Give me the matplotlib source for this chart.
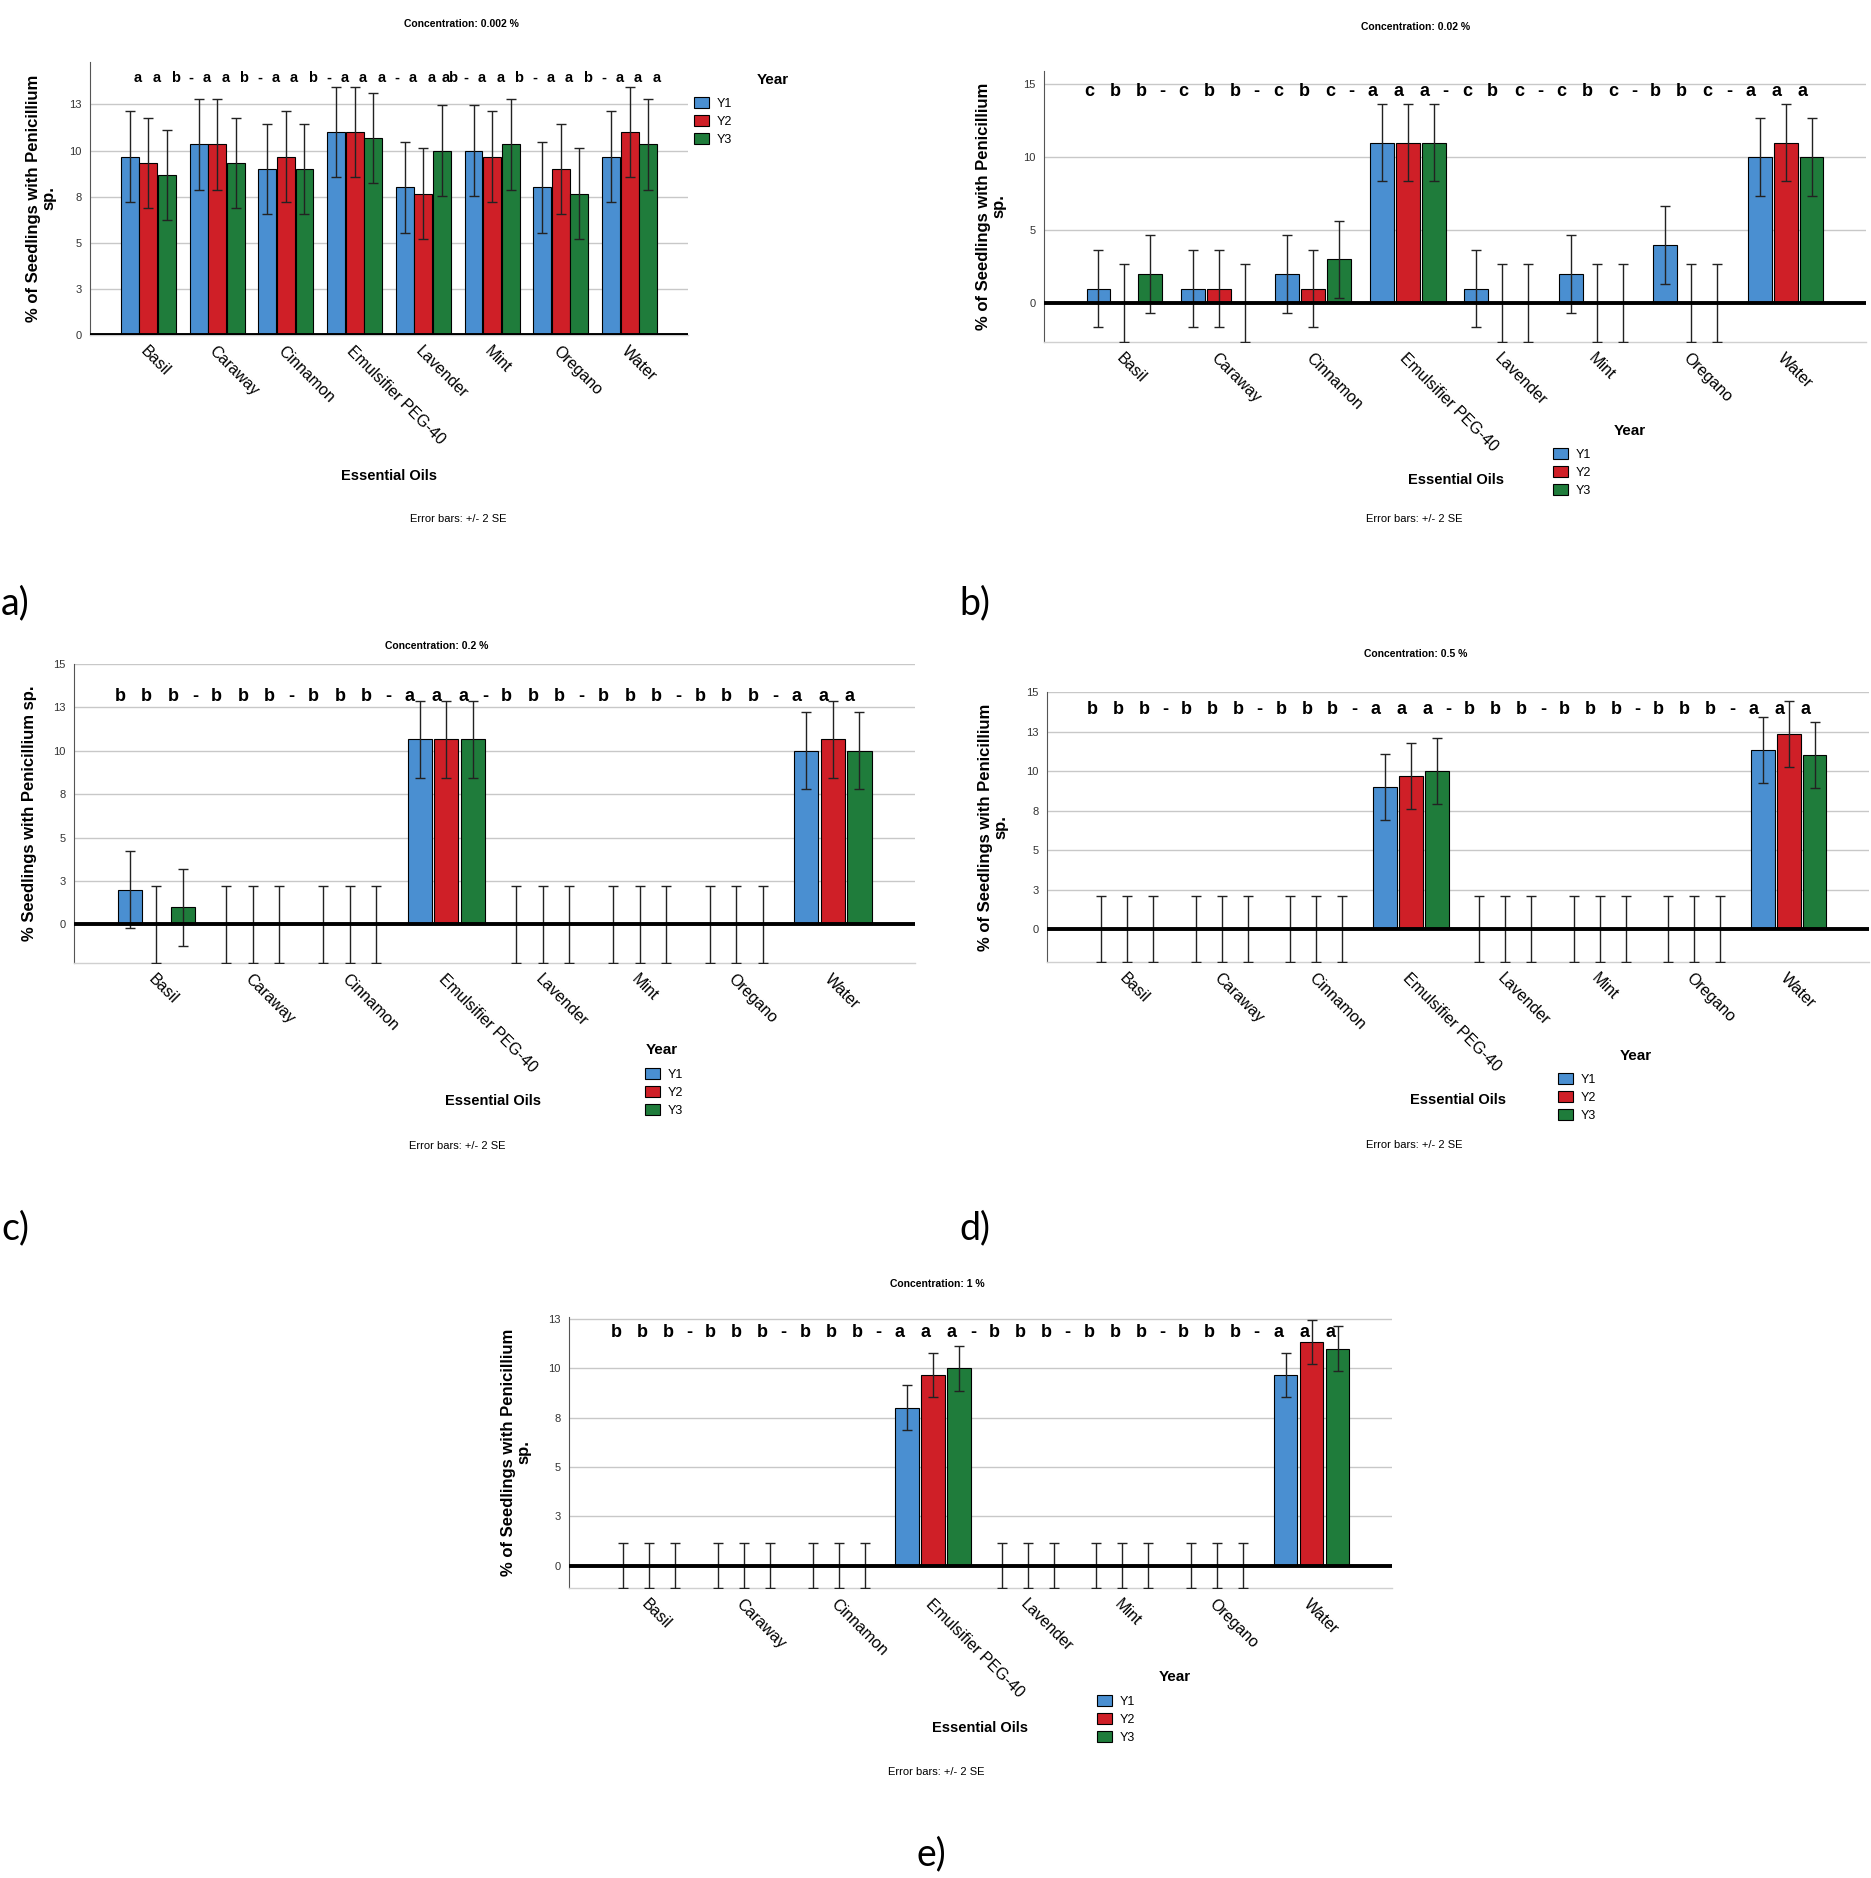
import numpy as np
import matplotlib
matplotlib.use("Agg")
import matplotlib.pyplot as plt
from matplotlib.ticker import FuncFormatter

plt.rcParams['font.family'] = ['Liberation Sans', 'DejaVu Sans']

# Data
oils = ['Basil', 'Caraway', 'Cinnamon', 'Emulsifier PEG-40', 'Lavender', 'Mint', 'Oregano', 'Water']
years = ['Y1', 'Y2', 'Y3']
colors = ['#4a8fd1', '#cf1f27', '#1f7c3b']

# a) 0.002 %
a_y1 = [9.67, 10.33, 9.0, 11.0, 8.0, 10.0, 8.0, 9.67]
a_y2 = [9.33, 10.33, 9.67, 11.0, 7.67, 9.67, 9.0, 11.0]
a_y3 = [8.67, 9.33, 9.0, 10.67, 10.0, 10.33, 7.67, 10.33]
a_letters = ['aab', 'aab', 'aab', 'aaa', ['a', 'a', 'ab'], 'aab', 'aab', 'aaa']

# b) 0.02 %
b_y1 = [1, 1, 2, 11, 1, 2, 4, 10]
b_y2 = [0, 1, 1, 11, 0, 0, 0, 11]
b_y3 = [2, 0, 3, 11, 0, 0, 0, 10]
b_letters = ['cbb', 'cbb', 'cbc', 'aaa', 'cbc', 'cbc', 'bbc', 'aaa']

# c) 0.2 %
c_y1 = [2, 0, 0, 10.67, 0, 0, 0, 10]
c_y2 = [0, 0, 0, 10.67, 0, 0, 0, 10.67]
c_y3 = [1, 0, 0, 10.67, 0, 0, 0, 10]
c_letters = ['bbb', 'bbb', 'bbb', 'aaa', 'bbb', 'bbb', 'bbb', 'aaa']

# d) 0.5 %
d_y1 = [0, 0, 0, 9.0, 0, 0, 0, 11.33]
d_y2 = [0, 0, 0, 9.67, 0, 0, 0, 12.33]
d_y3 = [0, 0, 0, 10.0, 0, 0, 0, 11.0]
d_letters = ['bbb', 'bbb', 'bbb', 'aaa', 'bbb', 'bbb', 'bbb', 'aaa']

# e) 1 %
e_y1 = [0, 0, 0, 8.0, 0, 0, 0, 9.67]
e_y2 = [0, 0, 0, 9.67, 0, 0, 0, 11.33]
e_y3 = [0, 0, 0, 10.0, 0, 0, 0, 11.0]
e_letters = ['bbb', 'bbb', 'bbb', 'aaa', 'bbb', 'bbb', 'bbb', 'aaa']

# +/- 2 SE half widths, one per panel
two_se = [2.45, 2.66, 2.22, 2.08, 1.13]

W, H = 1871, 1878


def fx(x):
    return x / W


def fy(y):
    return 1 - y / H


fig = plt.figure(figsize=(W / 100, H / 100), dpi=100)


def draw_panel(box, vals, err, letters, ylim, ystep, title, ylabel, letter_y,
               letter_size, shift, bar_w, off, title_xy, ylab_x, xlab_xy,
               err_xy, year_xy, leg_xy, tag, tag_xy):
    l, t, r, b = box
    ax = fig.add_axes([fx(l), fy(b), (r - l) / W, (b - t) / H])
    x = np.arange(len(oils))
    bars = []
    for j, v in enumerate(vals):
        pos = x + (j - 1) * off
        bc = ax.bar(pos, v, width=bar_w, color=colors[j], edgecolor='black',
                    linewidth=0.8, zorder=2, label=years[j])
        ax.errorbar(pos, v, yerr=err, fmt='none', ecolor='#222222',
                    elinewidth=1.0, capsize=3.5, capthick=1.0, zorder=3)
        bars.append(bc)
    ax.axhline(0, color='black', lw=2.8, zorder=4)
    ax.set_xlim(-0.85, 7.85)
    ax.set_ylim(*ylim)
    ticks = np.arange(0, ylim[1] + 0.01, ystep)
    ax.set_yticks(ticks)
    ax.yaxis.set_major_formatter(FuncFormatter(lambda v, p: '%d' % int(np.floor(v + 0.5))))
    ax.tick_params(axis='y', length=0, labelsize=8, labelcolor='#333333', pad=6)
    ax.set_xticks(x)
    ax.set_xticklabels(oils, rotation=-45, ha='left', va='top',
                       rotation_mode='anchor', fontsize=11.5)
    ax.tick_params(axis='x', length=0, pad=6)
    ax.grid(axis='y', color='#c8c8c8', lw=1.0, zorder=0)
    ax.set_axisbelow(True)
    for s in ['top', 'right']:
        ax.spines[s].set_visible(False)
    ax.spines['left'].set_color('#555555')
    ax.spines['left'].set_linewidth(0.8)
    ax.spines['bottom'].set_color('#d0d0d0')
    ax.spines['bottom'].set_linewidth(1.0)

    # significance letters above each bar, dashes between groups
    for i, grp in enumerate(letters):
        for j, s in enumerate(grp):
            ax.text(i + (j - 1) * off + shift, letter_y, s, ha='center', va='center',
                    fontsize=letter_size, fontweight='bold')
        if i < len(letters) - 1:
            ax.text(i + 0.5 + shift, letter_y, '-', ha='center', va='center',
                    fontsize=letter_size, fontweight='bold')

    fig.text(fx(title_xy[0]), fy(title_xy[1]), title, ha='center', va='center',
             fontsize=7.5, fontweight='bold')
    fig.text(fx(ylab_x), fy((t + b) / 2), ylabel, rotation=90, ha='center',
             va='center', fontsize=12, fontweight='bold', multialignment='center',
             linespacing=1.0)
    fig.text(fx(xlab_xy[0]), fy(xlab_xy[1]), 'Essential Oils', ha='center',
             va='center', fontsize=10.5, fontweight='bold')
    fig.text(fx(err_xy[0]), fy(err_xy[1]), 'Error bars: +/- 2 SE', ha='center',
             va='center', fontsize=8)
    fig.text(fx(year_xy[0]), fy(year_xy[1]), 'Year', ha='center', va='center',
             fontsize=11, fontweight='bold')
    fig.legend(handles=bars, labels=years, loc='upper left',
               bbox_to_anchor=(fx(leg_xy[0]), fy(leg_xy[1])), frameon=False,
               fontsize=9, handlelength=1.2, handleheight=1.0, handletextpad=0.6,
               labelspacing=0.42, borderpad=0, borderaxespad=0)
    fig.text(fx(tag_xy[0]), fy(tag_xy[1]), tag, ha='left', va='center',
             fontsize=27, family=['Lato', 'DejaVu Sans'])
    return ax


ylab2 = '% of Seedlings with Penicillium\nsp.'

draw_panel((90, 62, 688, 335), (a_y1, a_y2, a_y3), two_se[0], a_letters,
           (0, 14.8), 2.5, 'Concentration: 0.002 %', ylab2, 13.95, 10.5, 0.12,
           0.26, 0.27, (461, 24), 41, (389, 476), (458, 519), (773, 80),
           (694, 97), 'a)', (1, 603))

draw_panel((1044, 71, 1866, 342), (b_y1, b_y2, b_y3), two_se[1], b_letters,
           (-2.66, 15.9), 5, 'Concentration: 0.02 %', ylab2, 14.5, 13, -0.1,
           0.25, 0.275, (1416, 27), 991, (1456, 480), (1414, 519), (1630, 431),
           (1553, 448), 'b)', (959, 603))

draw_panel((74, 664, 915, 963), (c_y1, c_y2, c_y3), two_se[2], c_letters,
           (-2.22, 15), 2.5, 'Concentration: 0.2 %',
           '% Seedlings with Penicillium sp.', 13.1, 13, -0.1,
           0.25, 0.275, (437, 646), 30, (493, 1101), (457, 1146), (662, 1050),
           (645, 1068), 'c)', (1, 1228))

draw_panel((1047, 692, 1869, 962), (d_y1, d_y2, d_y3), two_se[3], d_letters,
           (-2.08, 15), 2.5, 'Concentration: 0.5 %', ylab2, 13.9, 13, -0.1,
           0.25, 0.275, (1416, 654), 993, (1458, 1100), (1414, 1145), (1636, 1056),
           (1558, 1073), 'd)', (959, 1228))

draw_panel((569, 1317, 1392, 1588), (e_y1, e_y2, e_y3), two_se[4], e_letters,
           (-1.13, 12.6), 2.5, 'Concentration: 1 %', ylab2, 11.8, 13, -0.08,
           0.25, 0.275, (937, 1284), 516, (980, 1728), (936, 1772), (1175, 1677),
           (1097, 1695), 'e)', (917, 1854))

fig.savefig('out.png', dpi=100)
